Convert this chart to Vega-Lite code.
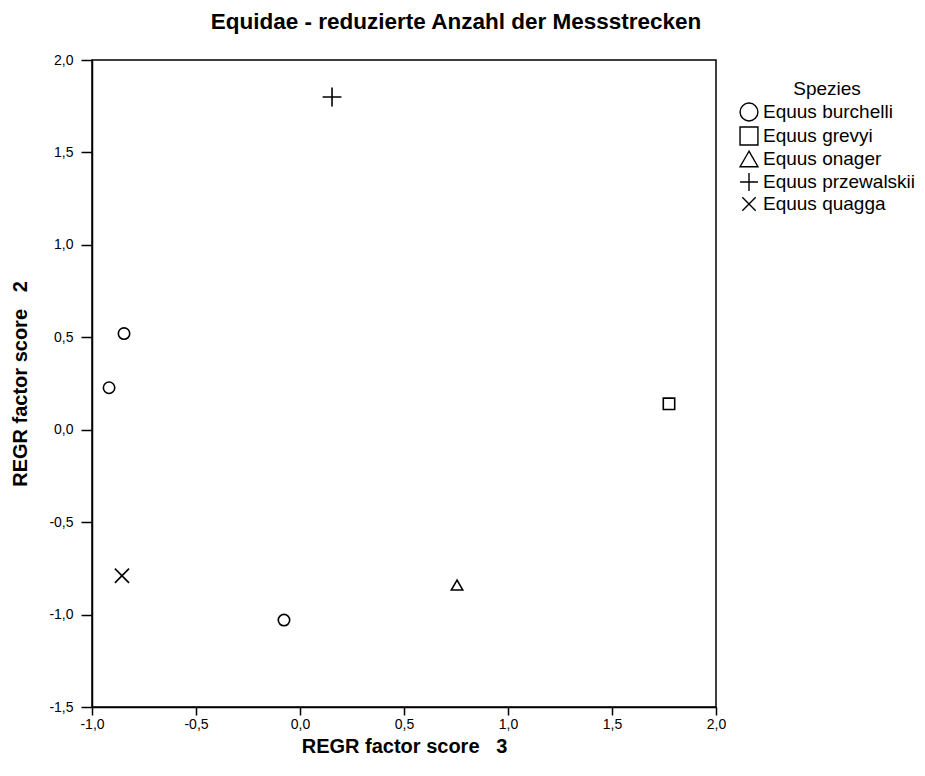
{
  "$schema": "https://vega.github.io/schema/vega-lite/v6.json",
  "autosize": {"type": "none"},
  "padding": {"left": 92, "top": 60, "right": 209, "bottom": 69},
  "width": 624,
  "height": 647,
  "background": "white",
  "title": {
    "text": "Equidae - reduzierte Anzahl der Messstrecken",
    "font": "Liberation Sans",
    "fontSize": 22.5,
    "fontWeight": "bold",
    "color": "black",
    "anchor": "middle",
    "dx": 52,
    "offset": 20
  },
  "config": {
    "view": {"stroke": "black", "strokeWidth": 1.5},
    "font": "Liberation Sans"
  },
  "data": {
    "values": [
      {"x": -0.846, "y": 0.52, "Spezies": "Equus burchelli"},
      {"x": -0.918, "y": 0.227, "Spezies": "Equus burchelli"},
      {"x": -0.077, "y": -1.03, "Spezies": "Equus burchelli"},
      {"x": 1.774, "y": 0.14, "Spezies": "Equus grevyi"},
      {"x": 0.755, "y": -0.84, "Spezies": "Equus onager"},
      {"x": 0.154, "y": 1.80, "Spezies": "Equus przewalskii"},
      {"x": -0.856, "y": -0.79, "Spezies": "Equus quagga"}
    ]
  },
  "encoding": {
    "x": {
      "field": "x", "type": "quantitative",
      "scale": {"domain": [-1, 2], "nice": false, "zero": false},
      "axis": {
        "title": "REGR factor score\u00a0\u00a0\u00a03",
        "values": [-1, -0.5, 0, 0.5, 1, 1.5, 2],
        "labelExpr": "replace(replace(format(datum.value, '.1f'), '.', ','), '\u2212', '-')",
        "grid": false,
        "domainColor": "black", "domainWidth": 1.5,
        "tickColor": "black", "tickWidth": 1.5, "tickSize": 8,
        "labelFont": "Liberation Sans", "labelFontSize": 14, "labelColor": "black", "labelPadding": 2,
        "labelFlush": false,
        "titleFont": "Liberation Sans", "titleFontSize": 20, "titleFontWeight": "bold", "titleColor": "black", "titlePadding": 5
      }
    },
    "y": {
      "field": "y", "type": "quantitative",
      "scale": {"domain": [-1.5, 2], "nice": false, "zero": false},
      "axis": {
        "title": "REGR factor score\u00a0\u00a0\u00a02",
        "values": [-1.5, -1, -0.5, 0, 0.5, 1, 1.5, 2],
        "labelExpr": "replace(replace(format(datum.value, '.1f'), '.', ','), '\u2212', '-')",
        "grid": false,
        "domainColor": "black", "domainWidth": 1.5,
        "tickColor": "black", "tickWidth": 1.5, "tickSize": 11,
        "labelFont": "Liberation Sans", "labelFontSize": 14, "labelColor": "black", "labelPadding": 8,
        "labelFlush": false,
        "titleFont": "Liberation Sans", "titleFontSize": 20, "titleFontWeight": "bold", "titleColor": "black", "titlePadding": 18
      }
    },
    "shape": {
      "field": "Spezies", "type": "nominal",
      "scale": {
        "domain": ["Equus burchelli", "Equus grevyi", "Equus onager", "Equus przewalskii", "Equus quagga"],
        "range": ["circle", "square", "triangle-up", "M-1,0L1,0M0,-1L0,1", "M-0.75,-0.75L0.75,0.75M0.75,-0.75L-0.75,0.75"]
      },
      "legend": {
        "orient": "none",
        "legendX": 647,
        "legendY": 20,
        "padding": 0,
        "title": "Spezies",
        "titleFont": "Liberation Sans", "titleFontSize": 19, "titleFontWeight": "normal", "titleColor": "black",
        "titleAnchor": "middle", "titlePadding": 3,
        "labelFont": "Liberation Sans", "labelFontSize": 19, "labelColor": "black", "labelOffset": 4,
        "symbolSize": 320, "symbolStrokeColor": "black", "symbolStrokeWidth": 1.4, "symbolFillColor": "transparent",
        "rowPadding": 0, "symbolType": "circle"
      }
    }
  },
  "layer": [
    {
      "transform": [{"filter": {"field": "Spezies", "oneOf": ["Equus burchelli", "Equus grevyi", "Equus onager"]}}],
      "mark": {"type": "point", "filled": false, "stroke": "black", "strokeWidth": 1.6, "opacity": 1, "size": 130}
    },
    {
      "transform": [{"filter": {"field": "Spezies", "oneOf": ["Equus przewalskii", "Equus quagga"]}}],
      "mark": {"type": "point", "filled": false, "stroke": "black", "strokeWidth": 1.6, "opacity": 1, "size": 355}
    }
  ]
}
